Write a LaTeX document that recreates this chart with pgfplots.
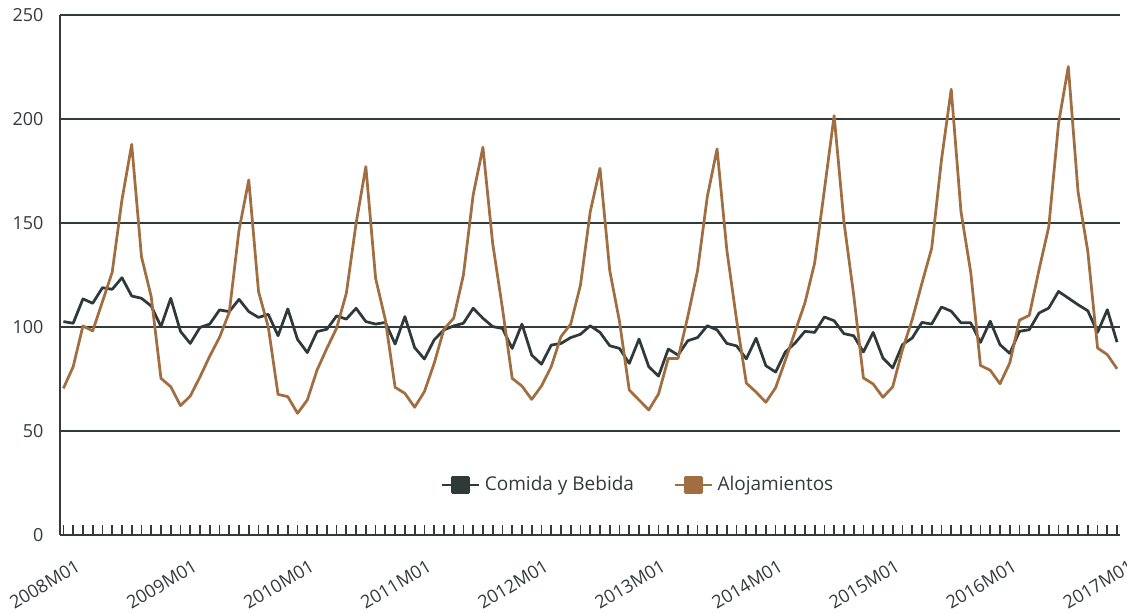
\documentclass[border=0pt]{standalone}
\usepackage{fontspec}
\setmainfont{Open Sans}
\usepackage{pgfplots}
\usepackage{pgfplotstable}
\pgfplotsset{compat=1.18}
\definecolor{txt}{RGB}{50,58,58}
\definecolor{comida}{RGB}{46,58,58}
\definecolor{aloj}{RGB}{160,110,64}

% i = months since 2008M01
\pgfplotstableread{
i comida aloj
0 102.6 70.5
1 101.8 80.9
2 113.5 100.5
3 111.4 98.1
4 118.9 112.2
5 118.1 126.3
6 123.7 161.1
7 114.9 187.8
8 113.8 133.8
9 110.1 114.6
10 100.2 75.3
11 113.8 71.3
12 97.9 62.2
13 92.1 66.8
14 99.8 76.0
15 101.4 86.0
16 108.2 95.0
17 107.4 107.0
18 113.3 146.6
19 107.4 170.7
20 104.6 117.0
21 106.1 100.0
22 95.8 67.6
23 108.7 66.5
24 94.0 58.5
25 87.7 64.9
26 97.8 79.3
27 98.9 89.7
28 105.3 99.4
29 103.8 116.2
30 109.0 149.8
31 102.6 177.1
32 101.4 123.4
33 102.2 103.4
34 91.8 71.0
35 105.0 68.1
36 90.1 61.4
37 84.6 68.9
38 93.8 82.5
39 98.6 98.9
40 100.5 104.2
41 101.8 125.0
42 109.0 163.5
43 104.2 186.4
44 100.2 140.2
45 99.3 109.0
46 89.7 75.3
47 101.4 71.6
48 86.5 65.2
49 82.1 71.6
50 91.3 80.9
51 92.1 95.4
52 94.9 101.4
53 96.5 120.2
54 100.6 155.4
55 97.4 176.3
56 91.0 127.1
57 89.7 102.6
58 82.5 69.7
59 94.2 64.9
60 80.9 60.1
61 76.4 67.8
62 89.4 84.9
63 86.5 84.9
64 93.4 105.0
65 94.9 127.1
66 100.6 162.7
67 98.6 185.6
68 92.1 137.0
69 90.9 103.4
70 84.7 73.0
71 94.6 68.7
72 81.4 63.8
73 78.3 70.8
74 88.0 84.0
75 92.3 97.9
76 97.9 111.5
77 97.4 130.7
78 104.8 165.9
79 103.0 201.6
80 96.8 150.7
81 95.8 115.5
82 88.0 75.5
83 97.4 72.6
84 85.1 66.2
85 80.3 71.2
86 91.5 89.1
87 94.7 103.5
88 102.2 121.1
89 101.4 137.9
90 109.6 180.3
91 107.6 214.3
92 102.0 155.5
93 102.0 126.3
94 92.6 81.5
95 102.8 79.2
96 91.5 72.7
97 87.3 82.7
98 97.9 103.3
99 98.7 105.6
100 106.7 127.5
101 109.1 148.2
102 117.1 197.8
103 113.9 225.2
104 110.7 165.0
105 107.8 136.3
106 97.4 89.9
107 108.3 86.7
108 92.7 79.9
}\datos

\begin{document}
\fontsize{7.2pt}{8.6pt}\selectfont
\begin{tikzpicture}
\begin{axis}[
  name=ax,
  scale only axis,
  width=424pt, height=208pt,
  xmin=-0.35, xmax=108.3,
  ymin=0, ymax=250,
  axis lines*=left,
  axis line style={txt, line width=0.8pt},
  ytick={0,50,...,250},
  ymajorgrids,
  grid style={txt, line width=0.8pt},
  y tick style={draw=none},
  xtick={0,12,...,108},
  xticklabels={2008M01,2009M01,2010M01,2011M01,2012M01,2013M01,2014M01,2015M01,2016M01,2017M01},
  minor xtick={0,1,...,108},
  tick align=inside,
  major tick length=4pt,
  minor tick length=4pt,
  x tick style={txt, line width=0.7pt},
  tick label style={text=txt, font=\fontsize{7.2pt}{8.6pt}\selectfont},
  x tick label style={rotate=31, anchor=north east, xshift=1.6pt, yshift=-7.8pt},
  y tick label style={xshift=-4pt},
  /pgf/number format/assume math mode=true,
  legend style={at={(0.547,0.096)}, anchor=center, draw=none, fill=none,
    text=txt, font=\fontsize{7.6pt}{9pt}\selectfont,
    /tikz/every even column/.append style={column sep=14pt}},
  legend columns=2,
  legend image code/.code={
    \draw[#1, line width=0.6pt] (0pt,0pt) -- (14.8pt,0pt);
    \fill[#1] (4.2pt,-3pt) rectangle (10.6pt,3pt);
  },
]
\addplot[comida, line width=1.1pt, line join=round, mark=none] table[x=i, y=comida]{\datos};
\addlegendentry{Comida y Bebida}
\addplot[aloj, line width=1.1pt, line join=round, mark=none] table[x=i, y=aloj]{\datos};
\addlegendentry{Alojamientos}
\end{axis}
\pgfresetboundingbox
\path ([xshift=-24pt, yshift=-31.2pt]ax.south west) rectangle ([xshift=2.8pt, yshift=6pt]ax.north east);
\end{tikzpicture}
\end{document}
